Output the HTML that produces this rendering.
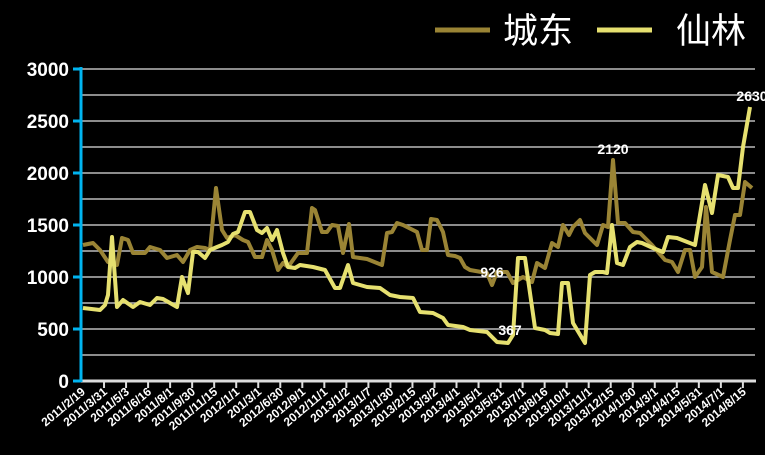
<!DOCTYPE html>
<html><head><meta charset="utf-8"><style>body{margin:0;background:#000}</style></head><body>
<svg width="765" height="455" xmlns="http://www.w3.org/2000/svg" style="display:block;background:#000;font-family:'Liberation Sans','Noto Sans CJK SC',sans-serif">
<g stroke="#bbb" stroke-width="1.5">
<line x1="81" y1="69" x2="755" y2="69"/><line x1="81" y1="95" x2="755" y2="95"/><line x1="81" y1="121" x2="755" y2="121"/><line x1="81" y1="147" x2="755" y2="147"/><line x1="81" y1="173" x2="755" y2="173"/><line x1="81" y1="199" x2="755" y2="199"/><line x1="81" y1="225" x2="755" y2="225"/><line x1="81" y1="251" x2="755" y2="251"/><line x1="81" y1="277" x2="755" y2="277"/><line x1="81" y1="303" x2="755" y2="303"/><line x1="81" y1="329" x2="755" y2="329"/><line x1="81" y1="355" x2="755" y2="355"/>
</g>
<line x1="80" y1="381" x2="756" y2="381" stroke="#ddd" stroke-width="3"/>
<g stroke="#ddd" stroke-width="2" id="t"></g>
<line x1="81" y1="67" x2="81" y2="382" stroke="#00b4f0" stroke-width="3"/>
<g stroke="#00b4f0" stroke-width="3"><line x1="73" y1="69" x2="81" y2="69"/><line x1="73" y1="121" x2="81" y2="121"/><line x1="73" y1="173" x2="81" y2="173"/><line x1="73" y1="225" x2="81" y2="225"/><line x1="73" y1="277" x2="81" y2="277"/><line x1="73" y1="329" x2="81" y2="329"/><line x1="73" y1="381" x2="81" y2="381"/></g>
<g fill="#fff" font-weight="bold" font-size="19" text-anchor="end">
<text x="69" y="76">3000</text><text x="69" y="128">2500</text><text x="69" y="180">2000</text><text x="69" y="232">1500</text><text x="69" y="284">1000</text><text x="69" y="336">500</text><text x="69" y="388">0</text></g>
<polyline fill="none" stroke="#9a8435" stroke-width="4" stroke-linejoin="round" points="83,245 93,243 100,250 108,262 117,265 122,238 128,240 133,253 145,253 150,247 160,250 167,258 177,255 183,262 190,250 197,247 205,248 210,250 216,188 222,230 227,238 235,235 243,240 248,242 255,257 262,257 267,240 272,250 278,270 283,263 288,267 293,260 298,253 303,253 307,253 312,208 315,210 322,232 327,232 332,225 338,226 343,253 349,224 353,257 367,259 382,265 387,233 392,232 397,223 403,225 413,230 417,232 422,250 427,250 431,219 437,220 443,232 448,255 455,256 460,258 465,267 470,270 487,273 492,285 497,272 507,272 513,283 523,277 532,282 537,263 545,268 552,243 558,247 563,225 569,235 573,227 580,220 585,233 597,245 603,225 608,227 613,160 618,223 625,223 633,232 640,233 652,245 665,260 672,262 678,272 685,250 690,250 695,277 702,267 706,207 712,272 723,277 730,240 735,215 740,215 745,182 752,188"/>
<polyline fill="none" stroke="#e6e070" stroke-width="4" stroke-linejoin="round" points="83,308 100,310 105,305 108,295 112,237 117,307 123,300 133,307 140,302 150,305 157,298 163,299 170,303 177,307 182,277 188,293 193,252 198,252 205,258 210,250 217,247 222,245 228,242 233,234 238,232 245,212 250,212 257,230 262,233 267,228 272,240 277,230 283,253 288,267 295,268 300,265 313,267 325,270 335,288 340,288 348,265 353,283 367,287 380,288 390,295 400,297 413,298 420,312 433,313 443,318 448,325 463,327 470,330 487,332 497,342 508,343 513,335 518,258 525,258 535,328 545,330 550,333 558,334 562,283 568,283 573,323 585,343 590,275 595,272 603,272 607,273 612,225 617,263 623,265 630,247 637,242 642,243 653,248 663,252 668,237 677,238 695,245 705,185 712,213 718,175 728,177 733,188 738,188 743,147 750,107"/>
<g fill="#fff" font-weight="bold" font-size="14" text-anchor="middle">
<text x="613" y="154">2120</text><text x="752" y="101">2630</text><text x="492" y="277">926</text><text x="510" y="335">367</text></g>
<line x1="435" y1="30" x2="490" y2="30" stroke="#9a8435" stroke-width="5"/>
<line x1="597" y1="30" x2="652" y2="30" stroke="#e6e070" stroke-width="5"/>
<g fill="#fff" font-size="35"><text x="503" y="43">城东</text><text x="676" y="43">仙林</text></g>
<g fill="#fff" font-weight="bold" font-size="12" text-anchor="end" id="xl"></g>
<script>
var L=["2011/2/19","2011/3/31","2011/5/3","2011/6/16","2011/8/1","2011/9/30","2011/11/15","2012/1/1","201/3/1","2012/6/30","2012/9/1","2012/11/1","2013/1/2","2013/1/7","2013/1/30","2013/2/15","2013/3/2","2013/4/1","2013/5/1","2013/5/31","2013/7/1","2013/8/16","2013/10/1","2013/11/1","2013/12/15","2014/1/30","2014/3/1","2014/4/15","2014/5/31","2014/7/1","2014/8/15"];
var ns="http://www.w3.org/2000/svg",g=document.getElementById("xl"),t=document.getElementById("t");
for(var i=0;i<31;i++){var x=82+i*22.03;
if(i>0){var l=document.createElementNS(ns,"line");l.setAttribute("x1",x);l.setAttribute("x2",x);l.setAttribute("y1",381);l.setAttribute("y2",388);t.appendChild(l);}
var e=document.createElementNS(ns,"text");e.setAttribute("transform","translate("+(x+4)+",393) rotate(-40)");e.textContent=L[i];g.appendChild(e);}
</script>
</svg>
</body></html>
